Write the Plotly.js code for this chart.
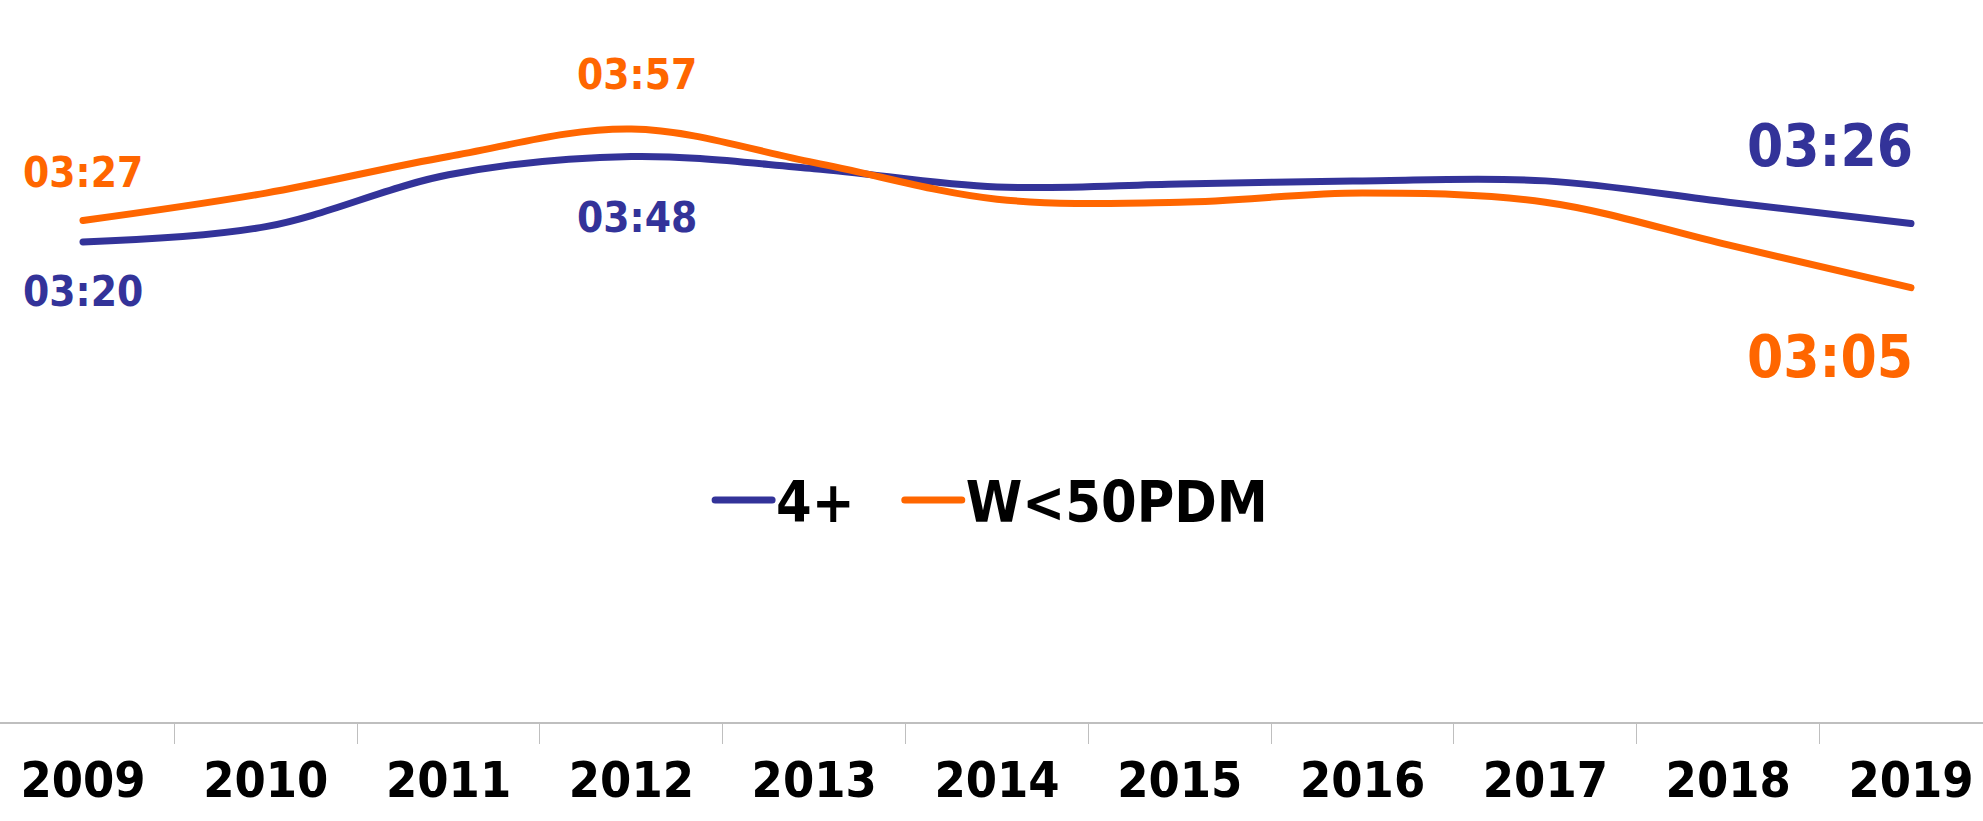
<!DOCTYPE html>
<html>
<head>
<meta charset="utf-8">
<script src="https://cdn.plot.ly/plotly-3.0.1.min.js"></script>
<style>
  html, body { margin: 0; padding: 0; background: #ffffff; }
  #chart { width: 1983px; height: 821px; }
  text { font-stretch: condensed !important; }
  .scatterlayer .js-line { stroke-linecap: round; stroke-linejoin: round; }
</style>
</head>
<body>
<div id="chart"></div>
<script>
// ---- data (values in minutes, shown as hh:mm) ----
const years = ['2009', '2010', '2011', '2012', '2013', '2014', '2015', '2016', '2017', '2018', '2019'];
const seriesNames = ['4+', 'W<50PDM'];
const values4plus = [200, 205, 222, 228, 224, 218, 219, 220, 220, 213, 206];
const valuesW50 = [207, 216, 228, 237, 226, 214, 213, 216, 213, 199, 185];
const labelledYears = ['2009', '2012', '2019'];

const BLUE = '#333399';
const ORANGE = '#FF6600';
const FONT = '"DejaVu Sans Condensed", "DejaVu Sans", sans-serif';

function fmt(mins) {
  const h = Math.floor(mins / 60);
  const m = Math.round(mins - h * 60);
  return String(h).padStart(2, '0') + ':' + String(m).padStart(2, '0');
}

const traces = [
  {
    x: years, y: values4plus, name: seriesNames[0], type: 'scatter', mode: 'lines',
    line: { color: BLUE, width: 7, shape: 'spline', smoothing: 1 },
    hoverinfo: 'skip'
  },
  {
    x: years, y: valuesW50, name: seriesNames[1], type: 'scatter', mode: 'lines',
    line: { color: ORANGE, width: 7, shape: 'spline', smoothing: 1 },
    hoverinfo: 'skip'
  }
];

// label placement per labelled year
const labelStyle = {
  '2009': { b: -50, o: 48, size: 42, anchor: 'center', xs: 0 },
  '2012': { b: -61, o: 55, size: 42, anchor: 'center', xs: 6 },
  '2019': { b: 78, o: -69, size: 58, anchor: 'right', xs: 4 }
};

const annotations = [];
labelledYears.forEach(function (yr) {
  const i = years.indexOf(yr);
  const st = labelStyle[yr];
  annotations.push({
    x: i, y: values4plus[i], xref: 'x', yref: 'y', text: fmt(values4plus[i]),
    showarrow: false, xanchor: st.anchor, yanchor: 'middle', yshift: st.b, xshift: st.xs,
    font: { family: FONT, size: st.size, color: BLUE, weight: 'bold' }
  });
  annotations.push({
    x: i, y: valuesW50[i], xref: 'x', yref: 'y', text: fmt(valuesW50[i]),
    showarrow: false, xanchor: st.anchor, yanchor: 'middle', yshift: st.o, xshift: st.xs,
    font: { family: FONT, size: st.size, color: ORANGE, weight: 'bold' }
  });
});

const layout = {
  width: 1983, height: 821,
  margin: { l: 0, r: 0, t: 0, b: 99, pad: 0 },
  paper_bgcolor: '#ffffff', plot_bgcolor: '#ffffff',
  font: { family: FONT, color: '#000000' },
  showlegend: true,
  legend: {
    orientation: 'h', x: 0.5, xanchor: 'center', y: 0.307, yanchor: 'middle',
    font: { family: FONT, size: 57, color: '#000000', weight: 'bold' },
    bgcolor: 'rgba(0,0,0,0)'
  },
  xaxis: {
    type: 'category', range: [-0.454, 10.394], fixedrange: true,
    showline: true, linecolor: '#BFBFBF', linewidth: 2,
    showgrid: false, zeroline: false,
    ticks: 'outside', tickson: 'boundaries', ticklen: 20, tickwidth: 1, tickcolor: '#BFBFBF',
    tickfont: { family: FONT, size: 50, color: '#000000', weight: 'bold' },
    ticklabelstandoff: 13
  },
  yaxis: {
    range: [42.6, 279.3], visible: false, fixedrange: true,
    showgrid: false, zeroline: false
  },
  annotations: annotations
};

// Lengthen the legend line samples (Excel-style) and re-space the items.
function restyleLegend() {
  const legend = document.querySelector('#chart .legend');
  if (!legend) return;
  const items = Array.from(legend.querySelectorAll('.traces'));
  const LINE = 57, TEXT_GAP = 4, ITEM_GAP = 50;
  let xcur = 0;
  items.forEach(function (g, k) {
    const path = g.querySelector('path.js-line');
    if (path) {
      path.setAttribute('d', 'M0,0h' + LINE);
      path.style.strokeLinecap = 'round';
    }
    const t = g.querySelector('text.legendtext');
    t.setAttribute('x', LINE + TEXT_GAP);
    const w = t.getComputedTextLength();
    const tr = g.getAttribute('transform') || '';
    const m = tr.match(/translate\(\s*([-\d.e]+)[ ,]+([-\d.e]+)\s*\)/);
    const y = m ? parseFloat(m[2]) : 0;
    g.setAttribute('transform', 'translate(' + xcur + ',' + y + ')');
    xcur += LINE + TEXT_GAP + w + (k < items.length - 1 ? ITEM_GAP : 0);
  });
  const ltr = legend.getAttribute('transform') || '';
  const lm = ltr.match(/translate\(\s*([-\d.e]+)[ ,]+([-\d.e]+)\s*\)/);
  const ly = lm ? parseFloat(lm[2]) : 0;
  legend.setAttribute('transform', 'translate(' + ((1983 - xcur) / 2) + ',' + ly + ')');
  const bg = legend.querySelector('rect.bg');
  if (bg) bg.setAttribute('width', xcur + 10);
  const sb = legend.querySelector('.scrollbox');
  if (sb) sb.removeAttribute('clip-path');
}

Plotly.newPlot('chart', traces, layout, { displayModeBar: false, staticPlot: true }).then(restyleLegend);
</script>
</body>
</html>
